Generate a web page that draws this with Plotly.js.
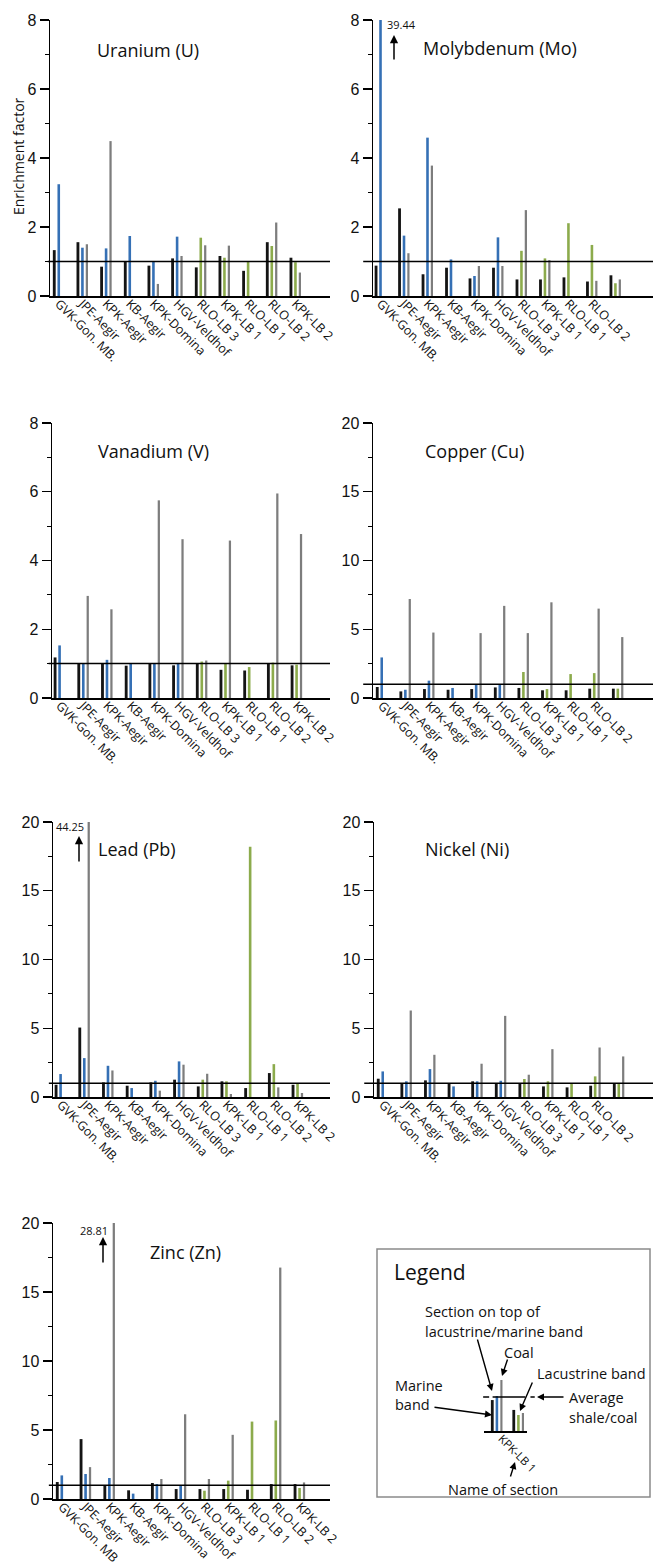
<!DOCTYPE html>
<html>
<head>
<meta charset="utf-8">
<script src="https://cdn.plot.ly/plotly-3.0.1.min.js"></script>
<style>html,body{margin:0;padding:0;background:#fff;}</style>
</head>
<body>
<div id="chart" style="width:653px;height:1565px;"></div>
<script>
// ---------- DATA ----------
const sections = ['GVK-Gon. MB.','JPE-Aegir','KPK-Aegir','KB-Aegir','KPK-Domina','HGV-Veldhof','RLO-LB 3','KPK-LB 1','RLO-LB 1','RLO-LB 2','KPK-LB 2'];
const sectionsZn = ['GVK-Gon. MB','JPE-Aegir','KPK-Aegir','KB-Aegir','KPK-Domina','HGV-Veldhof','RLO-LB 3','KPK-LB 1','RLO-LB 1','RLO-LB 2','KPK-LB 2'];
const bandType = ['marine','marine','marine','marine','marine','marine','lacustrine','lacustrine','lacustrine','lacustrine','lacustrine'];

// section on top of band (black), band (marine blue / lacustrine green), coal (grey)
const U_top  = [1.33,1.56,0.85,1.00,0.88,1.09,0.83,1.16,0.73,1.56,1.11];
const U_band = [3.24,1.40,1.38,1.74,1.01,1.72,1.69,1.11,1.00,1.45,0.98];
const U_coal = [null,1.50,4.49,null,0.35,1.16,1.47,1.46,null,2.13,0.68];

const Mo_top  = [0.88,2.54,0.63,0.82,0.51,0.82,0.48,0.48,0.54,0.42,0.60];
const Mo_band = [39.44,1.75,4.59,1.06,0.58,1.70,1.31,1.09,2.11,1.48,0.37];
const Mo_coal = [null,1.24,3.78,null,0.87,0.87,2.49,1.04,null,0.44,0.48];

const V_top  = [1.18,0.99,0.99,0.94,1.00,0.95,1.00,0.82,0.80,0.99,0.95];
const V_band = [1.53,0.99,1.11,0.99,1.00,1.02,1.06,0.99,0.90,1.03,0.97];
const V_coal = [null,2.97,2.58,null,5.75,4.62,1.09,4.58,null,5.95,4.77];

const Cu_top  = [0.80,0.48,0.65,0.60,0.65,0.77,0.73,0.56,0.56,0.68,0.68];
const Cu_band = [2.95,0.60,1.26,0.73,1.02,0.97,1.89,0.65,1.74,1.81,0.68];
const Cu_coal = [null,7.20,4.76,null,4.72,6.70,4.72,6.96,null,6.50,4.43];

const Pb_top  = [0.89,5.05,1.06,0.82,1.06,1.26,0.77,1.14,0.65,1.74,0.89];
const Pb_band = [1.67,2.83,2.27,0.65,1.18,2.59,1.26,1.14,18.2,2.39,0.97];
const Pb_coal = [null,44.25,1.93,null,0.46,2.35,1.69,0.22,null,0.70,0.29];

const Ni_top  = [1.33,0.97,1.21,0.97,1.14,0.97,0.97,0.77,0.70,0.82,0.97];
const Ni_band = [1.86,1.14,2.03,0.77,1.14,1.18,1.31,1.14,1.02,1.50,0.97];
const Ni_coal = [null,6.29,3.07,null,2.42,5.90,1.62,3.48,null,3.60,2.95];

const Zn_top  = [1.23,4.34,0.96,0.63,1.16,0.72,0.72,0.72,0.67,1.08,1.08];
const Zn_band = [1.71,1.81,1.52,0.39,1.08,0.96,0.60,1.33,5.61,5.69,0.80];
const Zn_coal = [null,2.31,28.81,null,1.45,6.14,1.45,4.65,null,16.77,1.20];

const elementNames = ['Uranium (U)','Molybdenum (Mo)','Vanadium (V)','Copper (Cu)','Lead (Pb)','Nickel (Ni)','Zinc (Zn)'];
const offScale = ['39.44','44.25','28.81'];

// legend schematic values
const legTop  = [0.91,0.62];
const legBand = [1.03,0.47];
const legCoal = [1.50,0.53];
const legBandType = ['marine','lacustrine'];
const legendLabel = 'KPK-LB 1';

// ---------- STYLE / LAYOUT ----------
const W = 653, H = 1565;
const px = v => v / W;
const py = v => 1 - v / H;
const C = {top:'#141414', marine:'#3570b5', lacustrine:'#8cab4c', coal:'#7d7d7d'};
const SANS = 'Open Sans, Noto Sans, sans-serif';

const panels = [
  {name:elementNames[0], top:U_top,  band:U_band,  coal:U_coal,  ymax:8,  dt:2, mdt:1,   xd:[50,330],  yd:[20,296],   xr:[-0.37,11.46], labels:sections, title:[95,50],   lx0:-0.008},
  {name:elementNames[1], top:Mo_top, band:Mo_band, coal:Mo_coal, ymax:8,  dt:2, mdt:1,   xd:[373,653], yd:[20,296],   xr:[-0.32,11.6],  labels:sections, title:[421,48],  lx0:-0.035},
  {name:elementNames[2], top:V_top,  band:V_band,  coal:V_coal,  ymax:8,  dt:2, mdt:1,   xd:[52,330],  yd:[423,698],  xr:[-0.32,11.41], labels:sections, title:[96,451],  lx0:-0.012},
  {name:elementNames[3], top:Cu_top, band:Cu_band, coal:Cu_coal, ymax:20, dt:5, mdt:2.5, xd:[373,653], yd:[423,698],  xr:[-0.37,11.49], labels:sections, title:[423,451], lx0:-0.035},
  {name:elementNames[4], top:Pb_top, band:Pb_band, coal:Pb_coal, ymax:20, dt:5, mdt:2.5, xd:[53,330],  yd:[822,1097], xr:[-0.32,11.37], labels:sections, title:[96,849],  lx0:-0.015},
  {name:elementNames[5], top:Ni_top, band:Ni_band, coal:Ni_coal, ymax:20, dt:5, mdt:2.5, xd:[374,653], yd:[822,1097], xr:[-0.37,11.45], labels:sections, title:[423,849], lx0:-0.035},
  {name:elementNames[6], top:Zn_top, band:Zn_band, coal:Zn_coal, ymax:20, dt:5, mdt:2.5, xd:[53,330],  yd:[1223,1499],xr:[-0.37,11.28], labels:sectionsZn, title:[148,1252], lx0:-0.015}
];

const traces = [];
const layout = {
  width: W, height: H, margin:{l:0,r:0,t:0,b:0},
  paper_bgcolor:'#fff', plot_bgcolor:'rgba(0,0,0,0)',
  showlegend:false, barmode:'overlay',
  annotations:[], shapes:[]
};
const idx = sections.map((_, i) => i);

panels.forEach((p, k) => {
  const n = k + 1;
  const xa = n === 1 ? 'x' : 'x' + n;
  const ya = n === 1 ? 'y' : 'y' + n;
  const xk = n === 1 ? 'xaxis' : 'xaxis' + n;
  const yk = n === 1 ? 'yaxis' : 'yaxis' + n;
  const marine = p.band.map((v, i) => bandType[i] === 'marine' ? v : null);
  const lac = p.band.map((v, i) => bandType[i] === 'lacustrine' ? v : null);
  traces.push({type:'bar', x:idx, y:p.top, xaxis:xa, yaxis:ya, marker:{color:C.top, line:{width:0}}, width:0.12, offset:-0.25, hoverinfo:'skip'});
  traces.push({type:'bar', x:idx, y:marine, xaxis:xa, yaxis:ya, marker:{color:C.marine, line:{width:0}}, width:0.11, offset:-0.055, hoverinfo:'skip'});
  traces.push({type:'bar', x:idx, y:lac, xaxis:xa, yaxis:ya, marker:{color:C.lacustrine, line:{width:0}}, width:0.11, offset:-0.055, hoverinfo:'skip'});
  traces.push({type:'bar', x:idx, y:p.coal, xaxis:xa, yaxis:ya, marker:{color:C.coal, line:{width:0}}, width:0.095, offset:0.14, hoverinfo:'skip'});

  layout[xk] = {
    domain:[px(p.xd[0]), px(p.xd[1])], anchor:ya, range:p.xr, fixedrange:true,
    showline:true, linecolor:'#000', linewidth:1.5, showgrid:false, zeroline:false,
    ticks:'', tickmode:'array', tickvals:idx, ticktext:p.labels, tickangle:45, ticklabelstandoff:-6,
    tickfont:{family:SANS, size:12.5, color:'#111'}
  };
  layout[yk] = {
    domain:[py(p.yd[1]), py(p.yd[0])], anchor:xa, range:[0, p.ymax], fixedrange:true,
    showline:true, linecolor:'#000', linewidth:1.5, showgrid:false, zeroline:false,
    ticks:'outside', ticklen:9, tickwidth:1.3, tickcolor:'#000', dtick:p.dt, tick0:0,
    tickfont:{family:'Liberation Sans, Arial, sans-serif', size:16, color:'#111'},
    minor:{ticks:'outside', ticklen:4, tickwidth:1.2, tickcolor:'#000', dtick:p.mdt, tick0:0, showgrid:false}
  };
  // average shale / coal reference line
  layout.shapes.push({type:'line', xref:xa + ' domain', yref:ya, x0:p.lx0, x1:1, y0:1, y1:1, line:{color:'#000', width:1.5}});
  // panel title
  layout.annotations.push({xref:'paper', yref:'paper', x:px(p.title[0]), y:py(p.title[1]), xanchor:'left', yanchor:'middle',
    text:p.name, showarrow:false, font:{family:SANS, size:18, color:'#111'}});
});

// y-axis title
layout.annotations.push({xref:'paper', yref:'paper', x:px(18), y:py(156), xanchor:'center', yanchor:'middle', textangle:-90,
  text:'Enrichment factor', showarrow:false, font:{family:SANS, size:14, color:'#111'}});

// off-scale labels and arrows
const offScalePos = [
  {lab:[401,25], head:[394,35], tail:[394,61]},
  {lab:[70,827], head:[79,836], tail:[79,863]},
  {lab:[94,1230], head:[103,1237], tail:[103,1264]}
];
offScalePos.forEach((o, i) => {
  layout.annotations.push({xref:'paper', yref:'paper', x:px(o.lab[0]), y:py(o.lab[1]), xanchor:'center', yanchor:'middle',
    text:offScale[i], showarrow:false, font:{family:SANS, size:11, color:'#111'}});
  layout.annotations.push({xref:'paper', yref:'paper', x:px(o.head[0]), y:py(o.head[1]), ax:o.tail[0]-o.head[0], ay:o.tail[1]-o.head[1],
    text:'', showarrow:true, arrowhead:2, arrowsize:1.1, arrowwidth:1.5, arrowcolor:'#000'});
});

// ---------- LEGEND BOX ----------
layout.shapes.push({type:'rect', xref:'paper', yref:'paper', x0:px(377), x1:px(650), y0:py(1497), y1:py(1249), line:{color:'#8a8a8a', width:1.5}, fillcolor:'rgba(0,0,0,0)'});

const lx = [0, 1];
const legMarine = legBand.map((v, i) => legBandType[i] === 'marine' ? v : null);
const legLac = legBand.map((v, i) => legBandType[i] === 'lacustrine' ? v : null);
traces.push({type:'bar', x:lx, y:legTop, xaxis:'x8', yaxis:'y8', marker:{color:C.top}, width:0.13, offset:-0.28, hoverinfo:'skip'});
traces.push({type:'bar', x:lx, y:legMarine, xaxis:'x8', yaxis:'y8', marker:{color:C.marine}, width:0.12, offset:-0.06, hoverinfo:'skip'});
traces.push({type:'bar', x:lx, y:legLac, xaxis:'x8', yaxis:'y8', marker:{color:C.lacustrine}, width:0.12, offset:-0.06, hoverinfo:'skip'});
traces.push({type:'bar', x:lx, y:legCoal, xaxis:'x8', yaxis:'y8', marker:{color:C.coal}, width:0.1, offset:0.16, hoverinfo:'skip'});
layout.xaxis8 = {domain:[px(484), px(527)], anchor:'y8', range:[-0.6, 1.4], showline:true, linecolor:'#000', linewidth:1.5,
  showgrid:false, zeroline:false, showticklabels:false, ticks:'', fixedrange:true};
layout.yaxis8 = {domain:[py(1431), py(1363)], anchor:'x8', range:[0, 2], showline:false, showgrid:false, zeroline:false,
  showticklabels:false, ticks:'', fixedrange:true};
layout.shapes.push({type:'line', xref:'x8 domain', yref:'y8', x0:-0.02, x1:0.12, y0:1, y1:1, line:{color:'#000', width:1.5}});
layout.shapes.push({type:'line', xref:'x8 domain', yref:'y8', x0:0.2, x1:0.96, y0:1, y1:1, line:{color:'#000', width:1.5}});
layout.shapes.push({type:'line', xref:'x8 domain', yref:'y8', x0:1.08, x1:1.18, y0:1, y1:1, line:{color:'#000', width:1.5}});

const legTexts = [
  ['Legend', 392, 1272, 21],
  ['Section on top of', 423, 1311, 14.5],
  ['lacustrine/marine band', 423, 1331, 14.5],
  ['Coal', 502, 1352, 14.5],
  ['Lacustrine band', 535, 1373, 14.5],
  ['Marine', 393, 1385, 14.5],
  ['band', 393, 1404, 14.5],
  ['Average', 567, 1397, 14.5],
  ['shale/coal', 567, 1417, 14.5],
  ['Name of section', 446, 1489, 14.5]
];
legTexts.forEach(t => {
  layout.annotations.push({xref:'paper', yref:'paper', x:px(t[1]), y:py(t[2]), xanchor:'left', yanchor:'middle', text:t[0],
    showarrow:false, font:{family:SANS, size:t[3], color:'#111'}});
});
layout.annotations.push({xref:'paper', yref:'paper', x:px(518), y:py(1453), xanchor:'center', yanchor:'middle', textangle:45,
  text:legendLabel, showarrow:false, font:{family:SANS, size:11.5, color:'#111'}});

const legArrows = [
  {head:[492,1391], tail:[477,1338]},
  {head:[502,1376], tail:[508,1358]},
  {head:[520,1411], tail:[533,1381]},
  {head:[537,1397], tail:[565,1397]},
  {head:[492,1415], tail:[433,1407]},
  {head:[515,1462], tail:[510,1478]}
];
legArrows.forEach(a => {
  layout.annotations.push({xref:'paper', yref:'paper', x:px(a.head[0]), y:py(a.head[1]), ax:a.tail[0]-a.head[0], ay:a.tail[1]-a.head[1],
    text:'', showarrow:true, arrowhead:2, arrowsize:1, arrowwidth:1.4, arrowcolor:'#000'});
});

Plotly.newPlot('chart', traces, layout, {displayModeBar:false, staticPlot:true});
</script>
</body>
</html>
